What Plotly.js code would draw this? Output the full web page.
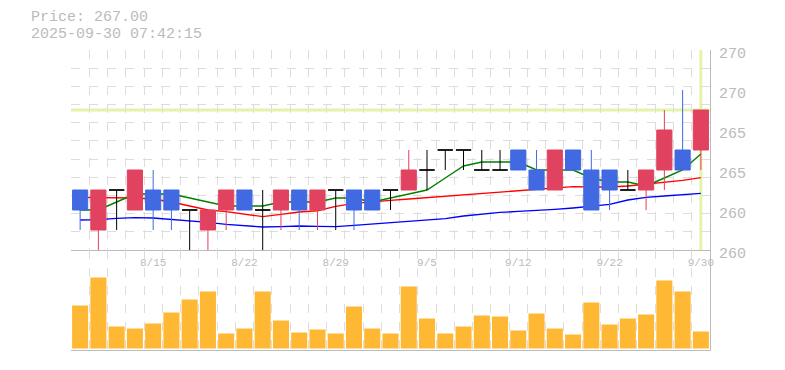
<!DOCTYPE html>
<html>
<head>
<meta charset="utf-8">
<script src="https://cdn.plot.ly/plotly-3.0.1.min.js"></script>
<style>
  html, body { margin: 0; padding: 0; background: #fff; }
  #chart { width: 785px; height: 370px; }
</style>
</head>
<body>
<div id="chart"></div>
<script>
// ---- data ----
const dates = ['8/8','8/12','8/13','8/14','8/15','8/18','8/19','8/20','8/21','8/22',
  '8/25','8/26','8/27','8/28','8/29','9/1','9/2','9/3','9/4','9/5',
  '9/8','9/9','9/10','9/11','9/12','9/16','9/17','9/18','9/19','9/22',
  '9/24','9/25','9/26','9/29','9/30'];
const openP  = [263,261,263,262,263,263,262,261,262,263, 262,262,263,262,263,263,263,263,263,264, 265,265,264,264,265,264,263,265,264,264, 263,263,264,265,265];
const highP  = [263,263,263,264,264,263,262,262,263,263, 263,263,263,263,263,263,263,263,265,265, 265,265,265,265,265,265,265,265,265,264, 264,264,267,268,267];
const lowP   = [261,260,261,262,261,261,260,260,261,262, 260,261,261,261,261,261,262,262,263,263, 264,264,264,264,264,263,263,264,262,262, 263,262,263,264,264];
const closeP = [262,263,263,264,262,262,262,262,263,262, 262,263,262,263,263,262,262,263,264,264, 265,265,264,264,264,263,265,264,262,263, 263,264,266,264,267];
const ma5  = [262.0,262.0,262.4,262.8,262.8,262.8,262.6,262.4,262.2,262.2, 262.2,262.4,262.4,262.4,262.6,262.6,262.4,262.6,262.8,263.0, 263.6,264.2,264.4,264.4,264.4,264.0,264.0,264.0,263.6,263.4, 263.4,263.2,263.6,264.0,264.8];
const ma25 = [262.63,262.62,262.62,262.6,262.55,262.4,262.2,262.0,261.92,261.8, 261.67,261.78,261.9,261.96,262.18,262.33,262.42,262.48,262.55,262.62, 262.7,262.78,262.83,262.92,262.97,263.03,263.12,263.17,263.15,263.15, 263.2,263.3,263.38,263.48,263.62];
const ma75 = [261.5,261.52,261.58,261.62,261.6,261.53,261.46,261.38,261.28,261.2, 261.15,261.17,261.2,261.18,261.17,261.23,261.3,261.37,261.45,261.5, 261.57,261.7,261.8,261.88,261.93,261.97,262.03,262.1,262.18,262.28, 262.5,262.63,262.7,262.77,262.83];
const volume = [43000,71000,22000,20000,25000,36000,49000,57000,15000,20000, 57000,28000,16000,19000,15000,42000,20000,15000,62000,30000, 15000,22000,33000,32000,18000,35000,20000,14000,46000,24000, 30000,34000,68000,57000,17000];
const labelDates = ['8/15','8/22','8/29','9/5','9/12','9/22','9/30'];
const priceTicks = [270,268,266,264,262,260];
const priceTickText = ['270','270','265','265','260','260'];
const currentPrice = 267.00;
const timestamp = '2025-09-30 07:42:15';

// ---- build ----
const idx = dates.map((d, i) => i);
function pick(arr, cond) { return arr.filter((v, i) => cond(i)); }
const isUp = i => closeP[i] > openP[i];
const isDown = i => closeP[i] < openP[i];
const isDoji = i => closeP[i] === openP[i];

const RED = '#e1425f', BLUE = '#4169e1', FONT = 'Liberation Mono, DejaVu Sans Mono, monospace', GRAY = '#bbbbbb';

function candle(cond, colUp, colDown) {
  return {
    type: 'candlestick', xaxis: 'x', yaxis: 'y3',
    x: pick(idx, cond), open: pick(openP, cond), high: pick(highP, cond),
    low: pick(lowP, cond), close: pick(closeP, cond),
    increasing: { line: { color: colUp, width: 1 }, fillcolor: colUp },
    decreasing: { line: { color: colDown, width: 1 }, fillcolor: colDown },
    whiskerwidth: 0, hoverinfo: 'skip', showlegend: false
  };
}
function maLine(vals, color) {
  return { type: 'scatter', mode: 'lines', x: idx, y: vals, xaxis: 'x', yaxis: 'y',
    line: { color: color, width: 1.4 }, hoverinfo: 'skip', showlegend: false };
}

const traces = [
  maLine(ma75, '#0000ff'),
  maLine(ma25, '#ff0000'),
  maLine(ma5, '#008000'),
  candle(isUp, RED, RED),
  candle(isDown, BLUE, BLUE),
  candle(isDoji, '#000000', '#000000'),
  { type: 'bar', x: idx, y: volume, xaxis: 'x2', yaxis: 'y2',
    marker: { color: '#ffb833', line: { width: 0 } }, hoverinfo: 'skip', showlegend: false }
];

const layout = {
  width: 785, height: 370,
  margin: { l: 71, r: 75, t: 50, b: 20 },
  paper_bgcolor: '#ffffff', plot_bgcolor: '#ffffff',
  showlegend: false,
  bargap: 0.12, boxgap: 0.17, boxgroupgap: 0,
  font: { family: FONT, color: GRAY },
  xaxis: {
    anchor: 'y', domain: [0, 1], range: [-0.5, dates.length - 0.5],
    tickmode: 'array', tickvals: labelDates.map(d => dates.indexOf(d)), ticktext: labelDates,
    ticks: '', showgrid: false, zeroline: false,
    showline: true, linecolor: GRAY, linewidth: 1,
    ticklabelstandoff: 2,
    tickfont: { family: FONT, size: 11, color: GRAY },
    minor: { tickmode: 'linear', tick0: -0.5, dtick: 1, ticks: '',
      showgrid: true, gridcolor: '#dddddd', griddash: 'dash', gridwidth: 1 },
    rangeslider: { visible: false }, fixedrange: true
  },
  // grid axis for the price panel
  yaxis: {
    anchor: 'x', domain: [1/3, 1], side: 'right', range: [260, 270],
    tickmode: 'linear', tick0: 260, dtick: 10/11, showticklabels: false,
    ticks: '', showgrid: true, gridcolor: '#dddddd', griddash: 'dash', gridwidth: 1,
    zeroline: false, showline: true, linecolor: GRAY, linewidth: 1, fixedrange: true
  },
  // label axis for the price panel
  yaxis3: {
    anchor: 'x', overlaying: 'y', side: 'right', range: [260, 270],
    tickmode: 'array', tickvals: priceTicks, ticktext: priceTickText,
    ticks: '', showgrid: false, zeroline: false, showline: false,
    ticklabelshift: 3, ticklabelstandoff: 8,
    tickfont: { family: FONT, size: 15, color: GRAY }, fixedrange: true
  },
  xaxis2: {
    anchor: 'y2', domain: [0, 1], range: [-0.5, dates.length - 0.5],
    tickmode: 'linear', tick0: -0.5, dtick: 1, showticklabels: false, ticks: '',
    showgrid: true, gridcolor: '#dddddd', griddash: 'dash', zeroline: false,
    showline: true, linecolor: GRAY, linewidth: 1, fixedrange: true
  },
  yaxis2: {
    anchor: 'x2', domain: [0, 1/3], side: 'right', range: [-1500, 98500],
    showgrid: false, showticklabels: false, ticks: '', zeroline: false,
    showline: true, linecolor: GRAY, linewidth: 1, fixedrange: true
  },
  shapes: [
    { type: 'line', layer: 'below', xref: 'x domain', x0: 0, x1: 1, yref: 'y', y0: currentPrice, y1: currentPrice,
      line: { color: '#e3f4a9', width: 3 } },
    { type: 'line', layer: 'below', xref: 'x', x0: dates.length - 1, x1: dates.length - 1, yref: 'y domain', y0: 0, y1: 1,
      line: { color: '#e3f4a9', width: 3 } }
  ],
  annotations: [
    { xref: 'paper', yref: 'paper', x: (29 - 71) / 639, y: (350 - 18) / 300, xanchor: 'left', yanchor: 'middle',
      text: 'Price: ' + currentPrice.toFixed(2), showarrow: false, font: { family: FONT, size: 15, color: GRAY } },
    { xref: 'paper', yref: 'paper', x: (29 - 71) / 639, y: (350 - 34) / 300, xanchor: 'left', yanchor: 'middle',
      text: timestamp, showarrow: false, font: { family: FONT, size: 15, color: GRAY } }
  ]
};

Plotly.newPlot('chart', traces, layout, { displayModeBar: false, staticPlot: true });
</script>
</body>
</html>
